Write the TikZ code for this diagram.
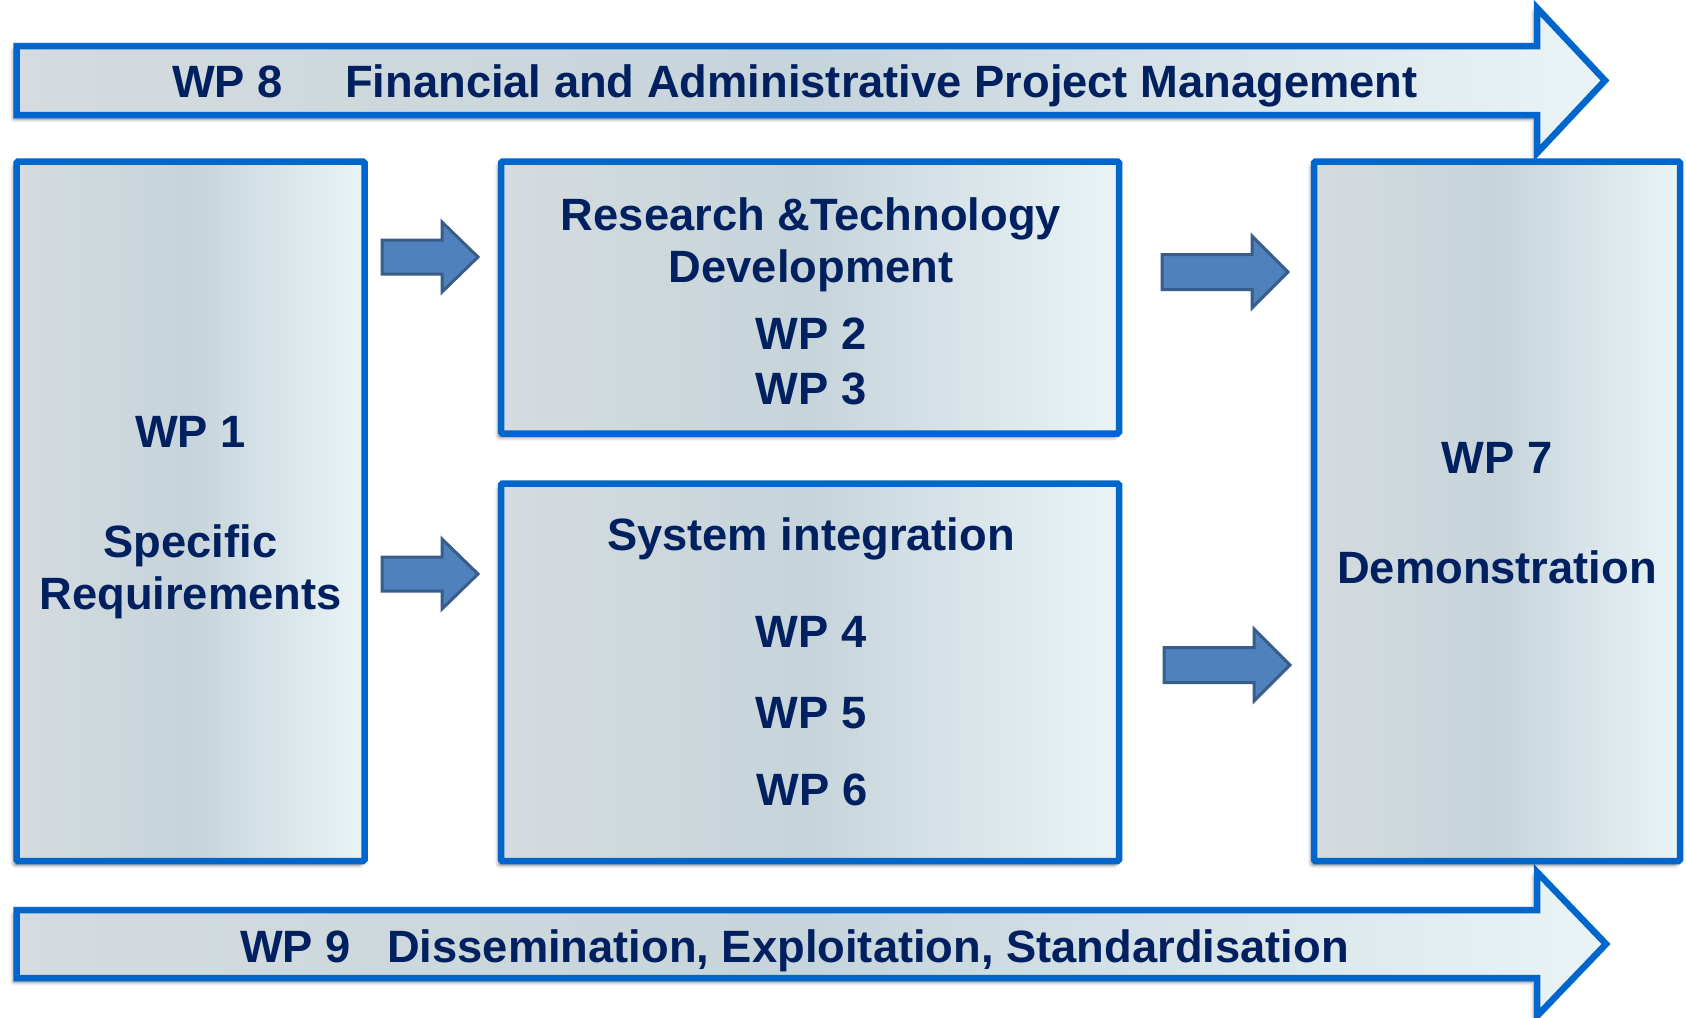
\documentclass[tikz,border=0pt]{standalone}
\usepackage{fontspec}
\setmainfont{Liberation Sans}
\usetikzlibrary{shadows.blur}
\definecolor{bordblue}{HTML}{0066CC}
\definecolor{txtblue}{HTML}{002060}
\definecolor{arrfill}{HTML}{4F81BD}
\definecolor{arrdraw}{HTML}{385D8A}
\definecolor{gA}{HTML}{D5DBDE}
\definecolor{gB}{HTML}{CDD8DC}
\definecolor{gC}{HTML}{C6D4DB}
\definecolor{gD}{HTML}{EAF4F6}
\pgfdeclarehorizontalshading{boxshade}{100bp}{color(0bp)=(gA); color(25bp)=(gA); color(38bp)=(gB); color(50bp)=(gC); color(75bp)=(gD); color(100bp)=(gD)}
\tikzset{
  shadowed/.style={blur shadow={shadow xshift=-3pt, shadow yshift=-4pt, shadow blur radius=3.5pt, shadow opacity=50}},
  box/.style={rectangle, draw=bordblue, line width=6.5pt, shading=boxshade, inner sep=0pt, rounded corners=1.5pt, shadowed},
  bigarrow/.style={draw=bordblue, line width=6.5pt, shading=boxshade, line join=miter, shadowed},
  smallarrow/.style={fill=arrfill, draw=arrdraw, line width=3pt, line join=miter},
  lbl/.style={text=txtblue, font=\fontsize{45.3pt}{54pt}\selectfont\bfseries, inner sep=0pt, anchor=base},
  lblw/.style={lbl, anchor=base west}
}
\newcommand\blockarrow[7]{%
  \path[#7] ({#1},{#4-#5}) -- ({#2},{#4-#5}) -- ({#2},{#4-#6}) -- ({#3},{#4}) -- ({#2},{#4+#6}) -- ({#2},{#4+#5}) -- ({#1},{#4+#5}) -- cycle;}
\begin{document}
\begin{tikzpicture}[x=1pt,y=-1pt]
\useasboundingbox (0,0) rectangle (1686,1017);
% big arrows
\blockarrow{16.5}{1537}{1605}{80.5}{34.5}{72.5}{bigarrow}
\blockarrow{16.5}{1537}{1606}{944}{34}{72}{bigarrow}
\node[lblw] (wp8) at (172,97) {WP 8};
\node[lblw] (fin) at (345,97) {Financial and Administrative Project Management};
\node[lblw] (wp9) at (240,962) {WP 9};
\node[lblw] (dis) at (387,962) {Dissemination, Exploitation, Standardisation};
% boxes
\node[box, minimum width=348pt, minimum height=699.5pt] (wp1) at (190.5,511.25) {};
\node[box, minimum width=618pt, minimum height=272pt] (rtd) at (810,297.5) {};
\node[box, minimum width=618pt, minimum height=377.5pt] (sys) at (810,672.25) {};
\node[box, minimum width=366pt, minimum height=699.5pt] (wp7) at (1497,511.25) {};
% box texts
\node[lbl] (t1a) at (190.5,447) {WP 1};
\node[lbl] (t1b) at (190.5,557) {Specific};
\node[lbl] (t1c) at (190.5,609) {Requirements};
\node[lbl] (t2a) at (811,230) {Research \&Technology};
\node[lbl] (t2b) at (811,282) {Development};
\node[lbl] (t2c) at (811,349.5) {WP 2};
\node[lbl] (t2d) at (811,404) {WP 3};
\node[lbl] (t3a) at (811,550.5) {System integration};
\node[lbl] (t3b) at (811,647) {WP 4};
\node[lbl] (t3c) at (811,728) {WP 5};
\node[lbl] (t3d) at (812,805.5) {WP 6};
\node[lbl] (t7a) at (1497,473) {WP 7};
\node[lbl] (t7b) at (1497,583) {Demonstration};
% small arrows
\blockarrow{382}{442}{478}{257}{17}{35}{smallarrow}
\blockarrow{382}{442}{478}{574}{17}{35}{smallarrow}
\blockarrow{1162}{1252}{1288}{272}{17.5}{36}{smallarrow}
\blockarrow{1164}{1254}{1290}{665}{17.5}{36}{smallarrow}
\end{tikzpicture}
\end{document}
